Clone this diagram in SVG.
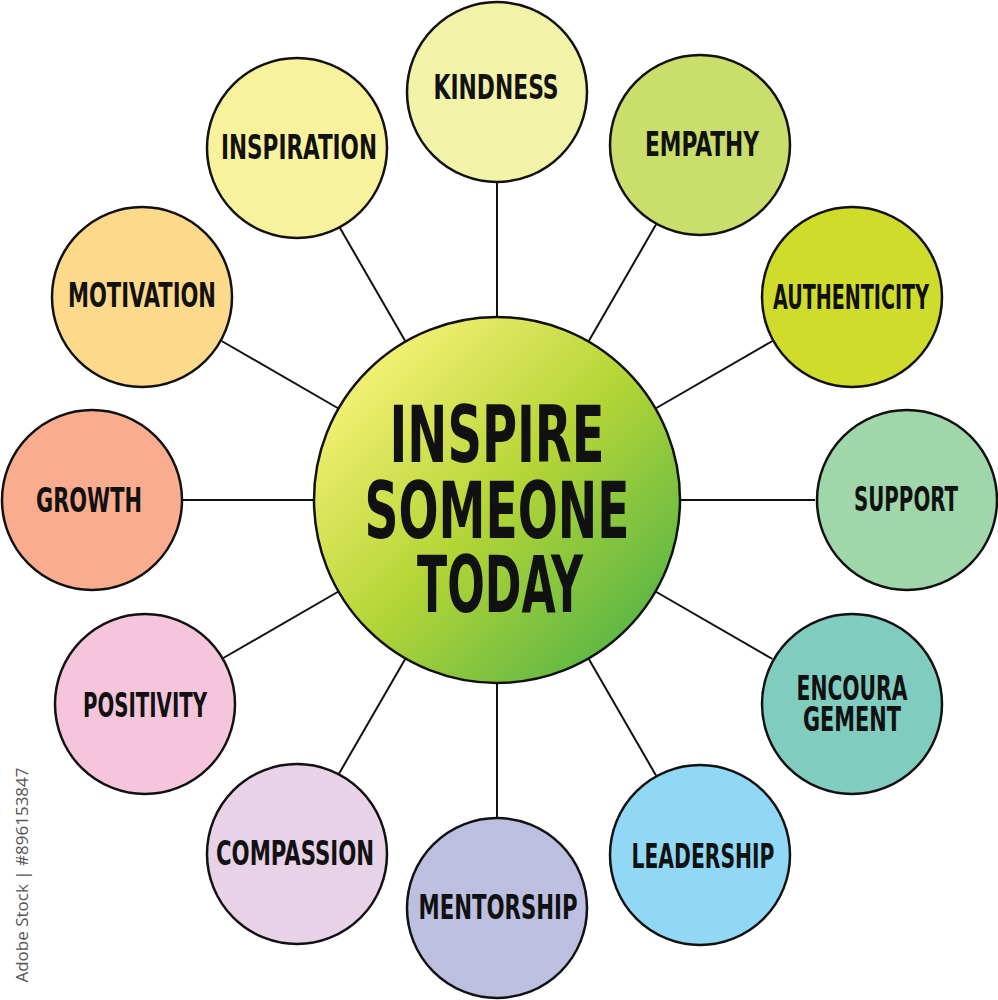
<svg xmlns="http://www.w3.org/2000/svg" width="998" height="1000" viewBox="0 0 998 1000">
<defs>
<linearGradient id="cg" x1="0.15" y1="0.15" x2="0.85" y2="0.85">
<stop offset="0" stop-color="#f1ef72"/>
<stop offset="0.5" stop-color="#b5d536"/>
<stop offset="1" stop-color="#62b945"/>
</linearGradient>
<style>
.n{stroke:#111;stroke-width:2.5}
.c line{stroke:#111;stroke-width:2}
.t{font-family:"Liberation Sans Narrow","DejaVu Sans Condensed","Liberation Sans",sans-serif;font-weight:bold;font-size:34px;fill:#111;text-anchor:middle}
.big{font-size:78px}
.wm{font-family:"Open Sans","Liberation Sans",sans-serif;font-size:17px;fill:#555}
</style>
</defs>
<rect width="998" height="1000" fill="#fff"/>
<g class="c" id="connectors">
<line x1="497" y1="317" x2="497" y2="182"/>
<line x1="588.5" y1="341.5" x2="656" y2="224.6"/>
<line x1="655.5" y1="408.5" x2="772.4" y2="341"/>
<line x1="680" y1="500" x2="815" y2="500"/>
<line x1="655.5" y1="591.5" x2="772.4" y2="659"/>
<line x1="588.5" y1="658.5" x2="656" y2="775.4"/>
<line x1="497" y1="683" x2="497" y2="818"/>
<line x1="405.5" y1="658.5" x2="338" y2="775.4"/>
<line x1="338.5" y1="591.5" x2="221.6" y2="659"/>
<line x1="314" y1="500" x2="179" y2="500"/>
<line x1="338.5" y1="408.5" x2="221.6" y2="341"/>
<line x1="405.5" y1="341.5" x2="338" y2="224.6"/>
</g>
<g id="center">
<circle class="n" cx="497" cy="500" r="183" fill="url(#cg)"/>
<text class="t big" x="497" y="462" textLength="215" lengthAdjust="spacingAndGlyphs">INSPIRE</text>
<text class="t big" x="497" y="538" textLength="265" lengthAdjust="spacingAndGlyphs">SOMEONE</text>
<text class="t big" x="500" y="612" textLength="166" lengthAdjust="spacingAndGlyphs">TODAY</text>
</g>
<g id="kindness"><circle class="n" cx="497" cy="92" r="90" fill="#f2f3a9"/><text class="t" x="496" y="99" textLength="125" lengthAdjust="spacingAndGlyphs">KINDNESS</text></g>
<g id="empathy"><circle class="n" cx="700" cy="145" r="90" fill="#c9de6b"/><text class="t" x="702" y="156" textLength="114" lengthAdjust="spacingAndGlyphs">EMPATHY</text></g>
<g id="authenticity"><circle class="n" cx="852" cy="297" r="90" fill="#cfdc2c"/><text class="t" x="851" y="309" textLength="156" lengthAdjust="spacingAndGlyphs">AUTHENTICITY</text></g>
<g id="support"><circle class="n" cx="907" cy="500" r="90" fill="#9fd6aa"/><text class="t" x="906" y="511" textLength="104" lengthAdjust="spacingAndGlyphs">SUPPORT</text></g>
<g id="encouragement"><circle class="n" cx="852" cy="704" r="90" fill="#80ccbe"/><text class="t" x="852" y="700" textLength="111" lengthAdjust="spacingAndGlyphs">ENCOURA</text><text class="t" x="852" y="731" textLength="98" lengthAdjust="spacingAndGlyphs">GEMENT</text></g>
<g id="leadership"><circle class="n" cx="700" cy="855" r="90" fill="#90d8f6"/><text class="t" x="703" y="868" textLength="143" lengthAdjust="spacingAndGlyphs">LEADERSHIP</text></g>
<g id="mentorship"><circle class="n" cx="497" cy="908" r="90" fill="#bdbfe0"/><text class="t" x="498" y="919" textLength="159" lengthAdjust="spacingAndGlyphs">MENTORSHIP</text></g>
<g id="compassion"><circle class="n" cx="297" cy="854" r="90" fill="#e8d2e8"/><text class="t" x="295" y="865" textLength="158" lengthAdjust="spacingAndGlyphs">COMPASSION</text></g>
<g id="positivity"><circle class="n" cx="145" cy="704" r="90" fill="#f5c5dc"/><text class="t" x="145" y="717" textLength="124" lengthAdjust="spacingAndGlyphs">POSITIVITY</text></g>
<g id="growth"><circle class="n" cx="92" cy="500" r="90" fill="#f9ad8e"/><text class="t" x="89" y="512" textLength="106" lengthAdjust="spacingAndGlyphs">GROWTH</text></g>
<g id="motivation"><circle class="n" cx="142" cy="297" r="90" fill="#fdd98c"/><text class="t" x="142" y="307" textLength="148" lengthAdjust="spacingAndGlyphs">MOTIVATION</text></g>
<g id="inspiration"><circle class="n" cx="297" cy="148" r="90" fill="#f9f29d"/><text class="t" x="299" y="159" textLength="156" lengthAdjust="spacingAndGlyphs">INSPIRATION</text></g>
<text class="wm" transform="translate(28,875) rotate(-90)" text-anchor="middle">Adobe Stock | #896153847</text>
</svg>
